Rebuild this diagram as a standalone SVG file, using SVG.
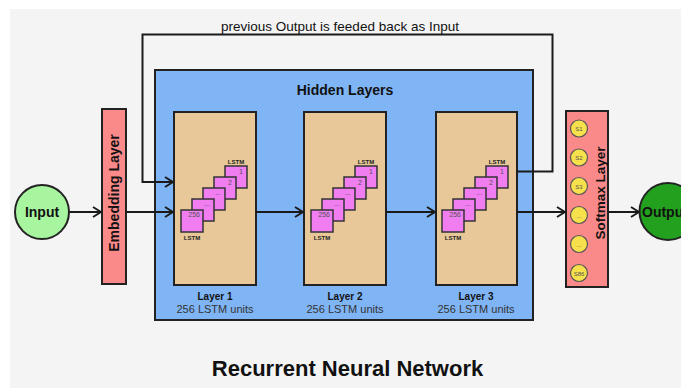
<svg xmlns="http://www.w3.org/2000/svg" width="681" height="388" viewBox="0 0 681 388">
<defs>
<style>
text{font-family:"Liberation Sans",Arial,sans-serif;fill:#111}
.b{font-weight:bold}
.box{stroke:#222;stroke-width:2}
.sq{fill:#f07ef0;stroke:#333;stroke-width:1.5}
.cell{font-size:7px;fill:#555}
.tag{font-size:6px;font-weight:bold;fill:#222}
.sc{fill:#f6e04c;stroke:#555;stroke-width:1.2}
.st{font-size:6px;fill:#555;text-anchor:middle}
.con{fill:none;stroke:#1a1a1a;stroke-width:2}
</style>
<marker id="ah" viewBox="0 0 10 12" refX="9" refY="6" markerWidth="10" markerHeight="12" markerUnits="userSpaceOnUse" orient="auto">
<path d="M1,1 L9,6 L1,11" fill="none" stroke="#1a1a1a" stroke-width="2"/>
</marker>
<g id="stack">
<rect class="sq" x="44" y="0" width="22" height="22"/>
<text class="cell" x="62" y="8" text-anchor="end">1</text>
<rect class="sq" x="33" y="11" width="22" height="22"/>
<text class="cell" x="51" y="19" text-anchor="end">2</text>
<rect class="sq" x="22" y="22" width="22" height="22"/>
<text class="cell" x="40" y="29" text-anchor="end">...</text>
<rect class="sq" x="11" y="33" width="22" height="22"/>
<text class="cell" x="29" y="40" text-anchor="end">...</text>
<rect class="sq" x="0" y="44" width="22" height="22"/>
<text class="cell" x="19" y="51" text-anchor="end">256</text>
<text class="tag" x="55" y="-2" text-anchor="middle">LSTM</text>
<text class="tag" x="11" y="74" text-anchor="middle">LSTM</text>
</g>
</defs>
<rect x="10" y="9" width="671" height="379" fill="#f4f4f4"/>
<text x="340" y="31" text-anchor="middle" font-size="13.5">previous Output is feeded back as Input</text>
<g id="hidden">
<rect class="box" x="155" y="70" width="378" height="250" fill="#80b5f5"/>
<text class="b" x="345" y="95" text-anchor="middle" font-size="14">Hidden Layers</text>
</g>
<g id="input">
<circle cx="42" cy="212" r="27" fill="#a8f5a0" stroke="#222" stroke-width="2"/>
<text class="b" x="42" y="217" text-anchor="middle" font-size="14">Input</text>
</g>
<g id="embedding">
<rect class="box" x="102" y="109" width="24" height="175" fill="#fa8a8a"/>
<text class="b" transform="translate(119,193) rotate(-90)" text-anchor="middle" font-size="14">Embedding Layer</text>
</g>
<g id="layer1">
<rect class="box" x="174" y="112" width="82" height="173" fill="#e8c898"/>
<use href="#stack" x="181" y="166"/>
<text class="b" x="215" y="300" text-anchor="middle" font-size="10">Layer 1</text>
<text x="215" y="313" text-anchor="middle" font-size="11" style="fill:#333">256 LSTM units</text>
</g>
<g id="layer2">
<rect class="box" x="304" y="112" width="82" height="173" fill="#e8c898"/>
<use href="#stack" x="311" y="166"/>
<text class="b" x="345" y="300" text-anchor="middle" font-size="10">Layer 2</text>
<text x="345" y="313" text-anchor="middle" font-size="11" style="fill:#333">256 LSTM units</text>
</g>
<g id="layer3">
<rect class="box" x="436" y="112" width="81" height="173" fill="#e8c898"/>
<use href="#stack" x="442" y="166"/>
<text class="b" x="476" y="300" text-anchor="middle" font-size="10">Layer 3</text>
<text x="476" y="313" text-anchor="middle" font-size="11" style="fill:#333">256 LSTM units</text>
</g>
<g id="softmax">
<rect class="box" x="566" y="111" width="42" height="176" fill="#fa8a8a"/>
<circle class="sc" cx="579" cy="128.5" r="8.5"/><text class="st" x="579" y="131">S1</text>
<circle class="sc" cx="579" cy="157.5" r="8.5"/><text class="st" x="579" y="160">S2</text>
<circle class="sc" cx="579" cy="186" r="8.5"/><text class="st" x="579" y="188.5">S3</text>
<circle class="sc" cx="579" cy="215" r="8.5"/><text class="st" x="579" y="217.5">...</text>
<circle class="sc" cx="579" cy="244" r="8.5"/><text class="st" x="579" y="246.5">...</text>
<circle class="sc" cx="579" cy="273" r="8.5"/><text class="st" x="579" y="275.5">S86</text>
<text class="b" transform="translate(605,193) rotate(-90)" text-anchor="middle" font-size="13.5">Softmax Layer</text>
</g>
<g id="output">
<circle cx="668" cy="211.5" r="28.5" fill="#22a01e" stroke="#222" stroke-width="2"/>
<text class="b" x="642" y="217" font-size="14">Output</text>
</g>
<g id="connectors">
<path class="con" d="M69,212 H101" marker-end="url(#ah)"/>
<path class="con" d="M126,212 H173" marker-end="url(#ah)"/>
<path class="con" d="M256,212 H303" marker-end="url(#ah)"/>
<path class="con" d="M386,212 H435" marker-end="url(#ah)"/>
<path class="con" d="M517,212 H565" marker-end="url(#ah)"/>
<path class="con" d="M608,212 H639" marker-end="url(#ah)"/>
<path class="con" d="M517,171.5 H552.5 V34.5 H142.5 V182 H173" marker-end="url(#ah)"/>
</g>
<text class="b" x="347.5" y="376" text-anchor="middle" font-size="22">Recurrent Neural Network</text>
</svg>
